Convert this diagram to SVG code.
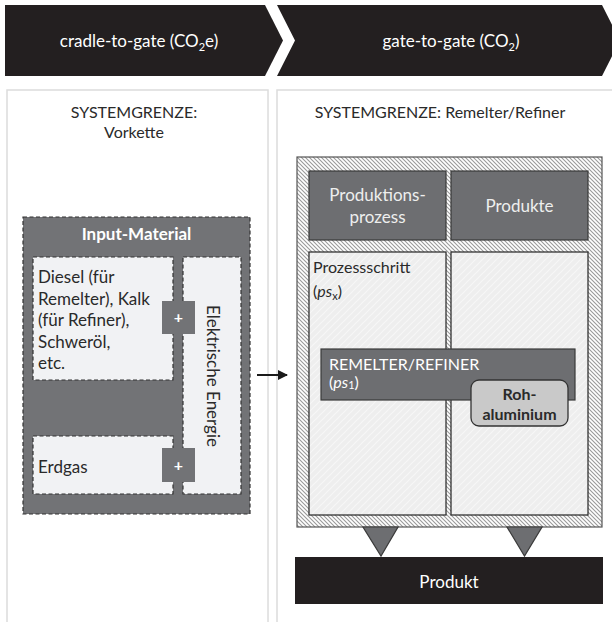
<svg xmlns="http://www.w3.org/2000/svg" width="612" height="622" viewBox="0 0 612 622">
<defs>
<pattern id="hatch" width="4" height="4" patternUnits="userSpaceOnUse">
<rect width="4" height="4" fill="#ffffff"/>
<path d="M-1,-1 L5,5 M-1,3 L1,5 M3,-1 L5,1" stroke="#9a9a9a" stroke-width="1.1"/>
</pattern>
<pattern id="faint" width="7" height="7" patternUnits="userSpaceOnUse">
<rect width="7" height="7" fill="#eeeeee"/>
<path d="M-1,8 L8,-1 M-1,1 L1,-1 M6,8 L8,6" stroke="#f7f7f7" stroke-width="1.2"/>
</pattern>
<marker id="arr" viewBox="0 0 10 10" refX="9" refY="5" markerWidth="5" markerHeight="5" orient="auto" markerUnits="strokeWidth">
<path d="M0,0 L10,5 L0,10 Z" fill="#1a1a1a"/>
</marker>
</defs>
<style>
text{font-family:Lato,"Liberation Sans",sans-serif;font-size:16px;}
.w{fill:#ffffff;}
.d{fill:#2a2a2a;}
.c{text-anchor:middle;}
.b{font-weight:bold;}
.l{font-size:17px;}
.banner{fill:#231f20;}
.panel{fill:#ffffff;stroke:#dcdcdc;stroke-width:1.5;}
.gray{fill:#6d6e71;stroke:#3a3a3a;stroke-width:1.2;}
.dash{stroke:#333333;stroke-width:1.2;stroke-dasharray:4 2.5;}
.light{fill:#f1f2f4;}
.inner{fill:url(#faint);stroke:#333333;stroke-width:1.3;}
</style>
<rect width="612" height="622" fill="#ffffff"/>

<g id="banner-cradle">
<path class="banner" d="M5,5 H265 L283,40.5 L265,76 H5 Z"/>
<text class="w c l" x="139" y="47">cradle-to-gate (CO<tspan font-size="11" dy="4">2</tspan><tspan dy="-4">e)</tspan></text>
</g>
<g id="banner-gate">
<path class="banner" d="M277,5 H602 L620,40.5 L602,76 H277 L295,40.5 Z"/>
<text class="w c l" x="451" y="47">gate-to-gate (CO<tspan font-size="11" dy="4">2</tspan><tspan dy="-4">)</tspan></text>
</g>

<g id="panel-vorkette">
<rect class="panel" x="7" y="90" width="261" height="540"/>
<text class="d c" x="134" y="118">SYSTEMGRENZE:</text>
<text class="d c" x="134" y="138">Vorkette</text>
</g>
<g id="panel-remelter">
<rect class="panel" x="277" y="90" width="340" height="540"/>
<text class="d c" x="440" y="118">SYSTEMGRENZE: Remelter/Refiner</text>
</g>

<g id="input-material">
<rect class="dash" fill="#727376" x="23" y="217" width="227" height="297"/>
<text class="w c b l" x="136.5" y="240">Input-Material</text>
</g>
<g id="diesel">
<rect class="light dash" x="33" y="257" width="140" height="123"/>
<text class="d l" x="38" y="283">Diesel (für</text>
<text class="d l" x="38" y="304.5">Remelter), Kalk</text>
<text class="d l" x="38" y="326">(für Refiner),</text>
<text class="d l" x="38" y="347.5">Schweröl,</text>
<text class="d l" x="38" y="369">etc.</text>
</g>
<g id="erdgas">
<rect class="light dash" x="33" y="436" width="140" height="58"/>
<text class="d l" x="38" y="473">Erdgas</text>
</g>
<g id="elektrische-energie">
<rect class="light dash" x="183" y="257" width="58" height="237"/>
<text class="d c l" transform="translate(207,376) rotate(90)" x="0" y="0">Elektrische Energie</text>
</g>
<g id="plus-1">
<rect fill="#727376" x="162" y="301" width="33" height="33"/>
<text class="w c b" x="178.5" y="323" font-size="15">+</text>
</g>
<g id="plus-2">
<rect fill="#727376" x="162" y="448" width="33" height="34"/>
<text class="w c b" x="178.5" y="470.5" font-size="15">+</text>
</g>

<g id="remelter-boundary">
<rect fill="url(#hatch)" stroke="#555555" stroke-width="1.2" x="297" y="157" width="305" height="370"/>
</g>
<g id="produktionsprozess">
<rect class="gray" x="309" y="171" width="137" height="69"/>
<text class="c l" fill="#eeeeee" x="377.5" y="201">Produktions-</text>
<text class="c l" fill="#eeeeee" x="377.5" y="223">prozess</text>
</g>
<g id="produkte">
<rect class="gray" x="451" y="171" width="137" height="69"/>
<text class="c l" fill="#eeeeee" x="519.5" y="212">Produkte</text>
</g>
<g id="prozessschritt">
<rect class="inner" x="309" y="252" width="137" height="263"/>
<text class="d" x="313" y="273">Prozessschritt</text>
<text class="d" x="313" y="297">(<tspan font-style="italic">ps</tspan><tspan font-size="11" dy="3">x</tspan><tspan dy="-3">)</tspan></text>
</g>
<g id="produkte-spalte">
<rect class="inner" x="451" y="252" width="137" height="263"/>
</g>
<g id="remelter-refiner">
<rect class="gray" x="321" y="349" width="254" height="51"/>
<text class="w" x="329" y="369.5">REMELTER/REFINER</text>
<text class="w" x="329" y="388" font-size="15">(<tspan font-style="italic">ps</tspan><tspan font-size="11" dy="1">1</tspan><tspan dy="-1">)</tspan></text>
</g>
<g id="rohaluminium">
<rect fill="#c9c9c9" stroke="#333333" stroke-width="1.3" x="471" y="380" width="97" height="46" rx="8"/>
<text class="d c b" x="519.5" y="399.5">Roh-</text>
<text class="d c b" x="519.5" y="420">aluminium</text>
</g>

<g id="connectors">
<line x1="257" y1="375" x2="287" y2="375" stroke="#1a1a1a" stroke-width="2" marker-end="url(#arr)"/>
<path class="gray" d="M363,527 H398 L381,556 Z"/>
<path class="gray" d="M507,527 H542 L524.5,556 Z"/>
</g>

<g id="produkt">
<rect fill="#231f20" x="295" y="557" width="308" height="47"/>
<text class="w c l" x="449" y="587.5">Produkt</text>
</g>
</svg>
